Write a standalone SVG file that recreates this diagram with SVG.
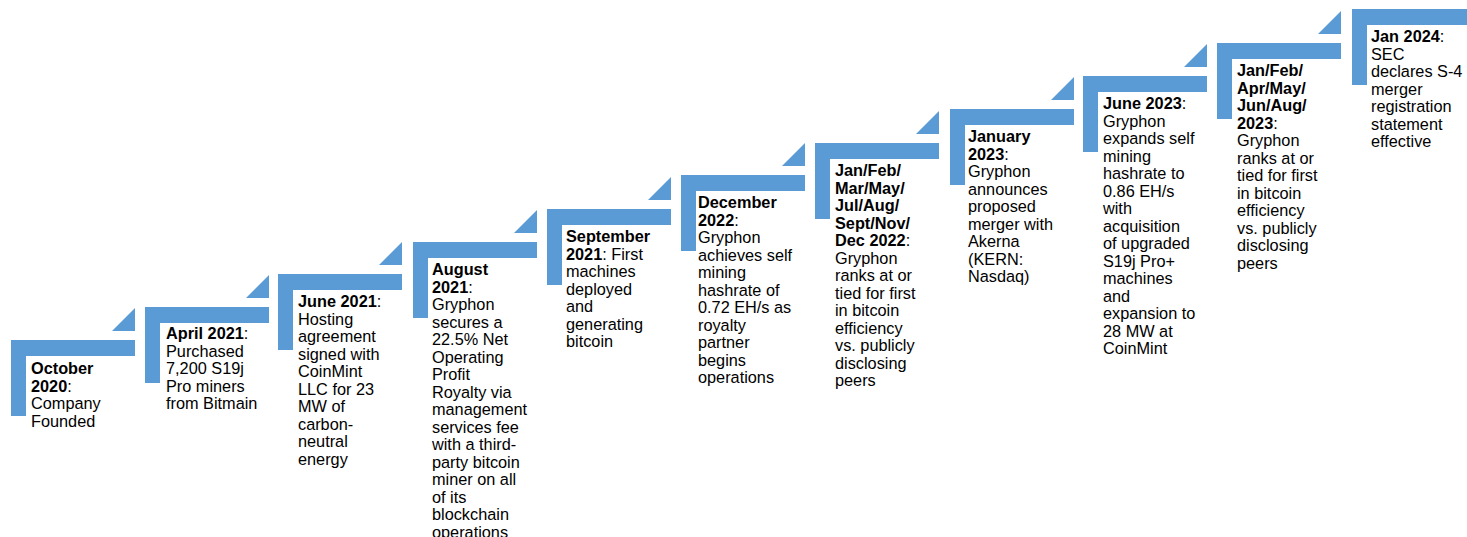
<svg xmlns="http://www.w3.org/2000/svg" width="1467" height="537" viewBox="0 0 1467 537">
<style>
.s{fill:#5B9BD5}
text{font-family:"Liberation Sans",Arial,sans-serif;font-size:16.3px;fill:#000}
.b{font-weight:bold}
</style>
<defs>
<path id="L" d="M0 0H124V16H15V76H0Z"/>
<path id="T" d="M101 -9H124V-32Z"/>
</defs>
<rect width="1467" height="537" fill="#fff"/>
<g id="connectors"></g>
<g id="step1" transform="translate(11,340)">
<use href="#L" class="s"/><use href="#T" class="s"/>
<text x="20" y="34"><tspan class="b">October</tspan><tspan x="20" dy="17.5" class="b">2020</tspan>:<tspan x="20" dy="17.5">Company</tspan><tspan x="20" dy="17.5">Founded</tspan></text>
</g>
<g id="step2" transform="translate(145,307)">
<use href="#L" class="s"/><use href="#T" class="s"/>
<text x="21" y="32"><tspan class="b">April 2021</tspan>:<tspan x="21" dy="17.5">Purchased</tspan><tspan x="21" dy="17.5">7,200 S19j</tspan><tspan x="21" dy="17.5">Pro miners</tspan><tspan x="21" dy="17.5">from Bitmain</tspan></text>
</g>
<g id="step3" transform="translate(278,274)">
<use href="#L" class="s"/><use href="#T" class="s"/>
<text x="20" y="33"><tspan class="b">June 2021</tspan>:<tspan x="20" dy="17.5">Hosting</tspan><tspan x="20" dy="17.5">agreement</tspan><tspan x="20" dy="17.5">signed with</tspan><tspan x="20" dy="17.5">CoinMint</tspan><tspan x="20" dy="17.5">LLC for 23</tspan><tspan x="20" dy="17.5">MW of</tspan><tspan x="20" dy="17.5">carbon-</tspan><tspan x="20" dy="17.5">neutral</tspan><tspan x="20" dy="17.5">energy</tspan></text>
</g>
<g id="step4" transform="translate(413,242)">
<use href="#L" class="s"/><use href="#T" class="s"/>
<text x="19" y="33"><tspan class="b">August</tspan><tspan x="19" dy="17.5" class="b">2021</tspan>:<tspan x="19" dy="17.5">Gryphon</tspan><tspan x="19" dy="17.5">secures a</tspan><tspan x="19" dy="17.5">22.5% Net</tspan><tspan x="19" dy="17.5">Operating</tspan><tspan x="19" dy="17.5">Profit</tspan><tspan x="19" dy="17.5">Royalty via</tspan><tspan x="19" dy="17.5">management</tspan><tspan x="19" dy="17.5">services fee</tspan><tspan x="19" dy="17.5">with a third-</tspan><tspan x="19" dy="17.5">party bitcoin</tspan><tspan x="19" dy="17.5">miner on all</tspan><tspan x="19" dy="17.5">of its</tspan><tspan x="19" dy="17.5">blockchain</tspan><tspan x="19" dy="17.5">operations</tspan></text>
</g>
<g id="step5" transform="translate(547,209)">
<use href="#L" class="s"/><use href="#T" class="s"/>
<text x="19" y="33"><tspan class="b">September</tspan><tspan x="19" dy="17.5" class="b">2021</tspan>: First<tspan x="19" dy="17.5">machines</tspan><tspan x="19" dy="17.5">deployed</tspan><tspan x="19" dy="17.5">and</tspan><tspan x="19" dy="17.5">generating</tspan><tspan x="19" dy="17.5">bitcoin</tspan></text>
</g>
<g id="step6" transform="translate(681,175)">
<use href="#L" class="s"/><use href="#T" class="s"/>
<text x="17" y="33"><tspan class="b">December</tspan><tspan x="17" dy="17.5" class="b">2022</tspan>:<tspan x="17" dy="17.5">Gryphon</tspan><tspan x="17" dy="17.5">achieves self</tspan><tspan x="17" dy="17.5">mining</tspan><tspan x="17" dy="17.5">hashrate of</tspan><tspan x="17" dy="17.5">0.72 EH/s as</tspan><tspan x="17" dy="17.5">royalty</tspan><tspan x="17" dy="17.5">partner</tspan><tspan x="17" dy="17.5">begins</tspan><tspan x="17" dy="17.5">operations</tspan></text>
</g>
<g id="step7" transform="translate(815,143)">
<use href="#L" class="s"/><use href="#T" class="s"/>
<text x="20" y="33"><tspan class="b">Jan/Feb/</tspan><tspan x="20" dy="17.5" class="b">Mar/May/</tspan><tspan x="20" dy="17.5" class="b">Jul/Aug/</tspan><tspan x="20" dy="17.5" class="b">Sept/Nov/</tspan><tspan x="20" dy="17.5" class="b">Dec 2022</tspan>:<tspan x="20" dy="17.5">Gryphon</tspan><tspan x="20" dy="17.5">ranks at or</tspan><tspan x="20" dy="17.5">tied for first</tspan><tspan x="20" dy="17.5">in bitcoin</tspan><tspan x="20" dy="17.5">efficiency</tspan><tspan x="20" dy="17.5">vs. publicly</tspan><tspan x="20" dy="17.5">disclosing</tspan><tspan x="20" dy="17.5">peers</tspan></text>
</g>
<g id="step8" transform="translate(950,109)">
<use href="#L" class="s"/><use href="#T" class="s"/>
<text x="18" y="33"><tspan class="b">January</tspan><tspan x="18" dy="17.5" class="b">2023</tspan>:<tspan x="18" dy="17.5">Gryphon</tspan><tspan x="18" dy="17.5">announces</tspan><tspan x="18" dy="17.5">proposed</tspan><tspan x="18" dy="17.5">merger with</tspan><tspan x="18" dy="17.5">Akerna</tspan><tspan x="18" dy="17.5">(KERN:</tspan><tspan x="18" dy="17.5">Nasdaq)</tspan></text>
</g>
<g id="step9" transform="translate(1083,76)">
<use href="#L" class="s"/><use href="#T" class="s"/>
<text x="20" y="33"><tspan class="b">June 2023</tspan>:<tspan x="20" dy="17.5">Gryphon</tspan><tspan x="20" dy="17.5">expands self</tspan><tspan x="20" dy="17.5">mining</tspan><tspan x="20" dy="17.5">hashrate to</tspan><tspan x="20" dy="17.5">0.86 EH/s</tspan><tspan x="20" dy="17.5">with</tspan><tspan x="20" dy="17.5">acquisition</tspan><tspan x="20" dy="17.5">of upgraded</tspan><tspan x="20" dy="17.5">S19j Pro+</tspan><tspan x="20" dy="17.5">machines</tspan><tspan x="20" dy="17.5">and</tspan><tspan x="20" dy="17.5">expansion to</tspan><tspan x="20" dy="17.5">28 MW at</tspan><tspan x="20" dy="17.5">CoinMint</tspan></text>
</g>
<g id="step10" transform="translate(1217,43)">
<use href="#L" class="s"/><use href="#T" class="s"/>
<text x="20" y="33"><tspan class="b">Jan/Feb/</tspan><tspan x="20" dy="17.5" class="b">Apr/May/</tspan><tspan x="20" dy="17.5" class="b">Jun/Aug/</tspan><tspan x="20" dy="17.5" class="b">2023</tspan>:<tspan x="20" dy="17.5">Gryphon</tspan><tspan x="20" dy="17.5">ranks at or</tspan><tspan x="20" dy="17.5">tied for first</tspan><tspan x="20" dy="17.5">in bitcoin</tspan><tspan x="20" dy="17.5">efficiency</tspan><tspan x="20" dy="17.5">vs. publicly</tspan><tspan x="20" dy="17.5">disclosing</tspan><tspan x="20" dy="17.5">peers</tspan></text>
</g>
<g id="step11" transform="translate(1352,9)">
<use href="#L" class="s"/>
<text x="19" y="33"><tspan class="b">Jan 2024</tspan>:<tspan x="19" dy="17.5">SEC</tspan><tspan x="19" dy="17.5">declares S-4</tspan><tspan x="19" dy="17.5">merger</tspan><tspan x="19" dy="17.5">registration</tspan><tspan x="19" dy="17.5">statement</tspan><tspan x="19" dy="17.5">effective</tspan></text>
</g>
</svg>
